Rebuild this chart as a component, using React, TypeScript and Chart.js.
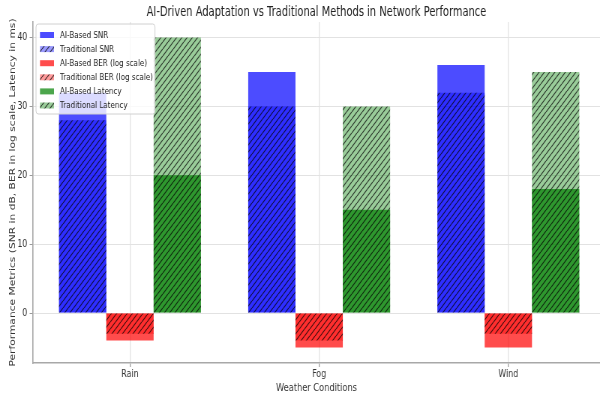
import React, { useEffect, useRef } from 'react';
import { Chart, registerables } from 'chart.js';

Chart.register(...registerables);

const categories = ['Rain', 'Fog', 'Wind'];
const aiSnr = [32, 35, 36];
const tradSnr = [28, 30, 32];
const aiBer = [-4, -5, -5];
const tradBer = [-3, -4, -3];
const aiLatency = [20, 15, 18];
const tradLatency = [40, 30, 35];
const yTicks = [0, 10, 20, 30, 40];
const seriesLabels = [
  'AI-Based SNR',
  'Traditional SNR',
  'AI-Based BER (log scale)',
  'Traditional BER (log scale)',
  'AI-Based Latency',
  'Traditional Latency',
];
const chartTitle = 'AI-Driven Adaptation vs Traditional Methods in Network Performance';
const xTitle = 'Weather Conditions';
const yTitle = 'Performance Metrics (SNR in dB, BER in log scale, Latency in ms)';

// The reference is horizontally squeezed; draw wider and scale down with CSS.
const K = 0.75;
const W = 600;
const H = 396;
const CW = Math.round(W / K);
const FONT = "'DejaVu Sans', sans-serif";

function hatch(color: string) {
  const s = 7;
  const c = document.createElement('canvas');
  c.width = s;
  c.height = s;
  const g = c.getContext('2d')!;
  g.fillStyle = color;
  g.fillRect(0, 0, s, s);
  g.strokeStyle = 'rgba(0,0,0,0.7)';
  g.lineWidth = 1.2;
  g.beginPath();
  for (const dx of [-s, 0, s]) {
    g.moveTo(dx, s);
    g.lineTo(dx + s, 0);
  }
  g.stroke();
  return g.createPattern(c, 'repeat') as CanvasPattern;
}

const toPoints = (arr: number[]) => arr.map((v, i) => ({ x: i, y: v }));

const legendPlugin = {
  id: 'boxLegend',
  afterDatasetsDraw(chart: any) {
    const ctx = chart.ctx as CanvasRenderingContext2D;
    const x0 = 36 / K;
    const y0 = 24;
    const w = 119 / K;
    const h = 90;
    ctx.save();
    ctx.fillStyle = 'rgba(255,255,255,0.8)';
    ctx.strokeStyle = '#d0d0d0';
    ctx.lineWidth = 1;
    ctx.beginPath();
    (ctx as any).roundRect(x0, y0, w, h, 3);
    ctx.fill();
    ctx.stroke();
    chart.data.datasets.forEach((ds: any, i: number) => {
      const cy = 35 + i * 14.1;
      ctx.fillStyle = ds.backgroundColor;
      ctx.fillRect(40 / K, cy - 3, 14 / K, 6);
      ctx.fillStyle = '#222';
      ctx.font = `9.5px ${FONT}`;
      ctx.textBaseline = 'middle';
      ctx.textAlign = 'left';
      ctx.fillText(ds.label, 60 / K, cy + 0.5);
    });
    ctx.restore();
  },
};

export default function App() {
  const ref = useRef<HTMLCanvasElement | null>(null);
  useEffect(() => {
    if (!ref.current) return;
    const blueAi = 'rgba(0,0,255,0.7)';
    const redAi = 'rgba(255,0,0,0.7)';
    const greenAi = 'rgba(0,128,0,0.7)';
    const common = { borderWidth: 0, categoryPercentage: 0.75, barPercentage: 1.0 };
    const chart = new Chart(ref.current, {
      type: 'bar',
      data: {
        datasets: [
          { ...common, label: seriesLabels[0], data: toPoints(aiSnr), backgroundColor: blueAi, stack: 'snr', order: 1 },
          { ...common, label: seriesLabels[1], data: toPoints(tradSnr), backgroundColor: hatch('rgba(0,0,255,0.4)'), stack: 'snr', order: 0 },
          { ...common, label: seriesLabels[2], data: toPoints(aiBer), backgroundColor: redAi, stack: 'ber', order: 1 },
          { ...common, label: seriesLabels[3], data: toPoints(tradBer), backgroundColor: hatch('rgba(255,0,0,0.4)'), stack: 'ber', order: 0 },
          { ...common, label: seriesLabels[4], data: toPoints(aiLatency), backgroundColor: greenAi, stack: 'lat', order: 1 },
          { ...common, label: seriesLabels[5], data: toPoints(tradLatency), backgroundColor: hatch('rgba(0,128,0,0.4)'), stack: 'lat', order: 0 },
        ] as any,
      },
      options: {
        animation: false,
        responsive: false,
        devicePixelRatio: 1,
        layout: { padding: 0 },
        font: { family: FONT },
        plugins: {
          legend: { display: false },
          tooltip: { enabled: false },
          title: {
            display: true,
            text: chartTitle,
            fullSize: false,
            color: '#222',
            font: { size: 13.2, weight: 'normal', family: FONT, lineHeight: 1.2 },
            padding: { top: 4.5, bottom: 1.7 },
          },
        },
        scales: {
          x: {
            type: 'linear',
            min: -0.5125,
            max: 2.4845,
            bounds: 'data',
            offset: false,
            afterBuildTicks: (s: any) => {
              s.ticks = categories.map((_, i) => ({ value: i }));
            },
            afterFit: (s: any) => {
              s.height = 33;
            },
            ticks: {
              callback: (v: any) => categories[v] ?? '',
              font: { size: 10.5, family: FONT },
              color: '#333',
              padding: 1,
              autoSkip: false,
              maxRotation: 0,
            },
            grid: { color: '#e2e2e2', lineWidth: 1.3, tickLength: 4, tickColor: '#999', offset: false },
            border: { color: '#a8a8a8', width: 1.6 },
            title: {
              display: true,
              text: xTitle,
              color: '#333',
              font: { size: 11, family: FONT },
              padding: { top: 0, bottom: 1.5 },
            },
          },
          y: {
            type: 'linear',
            min: -7.25,
            max: 42.25,
            bounds: 'data',
            stacked: false,
            afterBuildTicks: (s: any) => {
              s.ticks = yTicks.map((v) => ({ value: v }));
            },
            afterFit: (s: any) => {
              s.width = 33 / K;
            },
            ticks: { font: { size: 10.5, family: FONT }, color: '#333', padding: 3 },
            grid: { color: '#e2e2e2', lineWidth: 1, tickLength: 4.5, tickColor: '#999' },
            border: { color: '#a8a8a8', width: 1.6 },
            title: {
              display: true,
              text: yTitle,
              color: '#333',
              font: { size: 10.7, family: FONT },
              padding: { top: 10.5, bottom: 0 },
            },
          },
        },
      } as any,
      plugins: [legendPlugin],
    });
    return () => chart.destroy();
  }, []);
  return (
    <canvas
      ref={ref}
      width={CW}
      height={H}
      style={{ position: 'absolute', left: 0, top: 0, width: `${W}px`, height: `${H}px` }}
    />
  );
}
